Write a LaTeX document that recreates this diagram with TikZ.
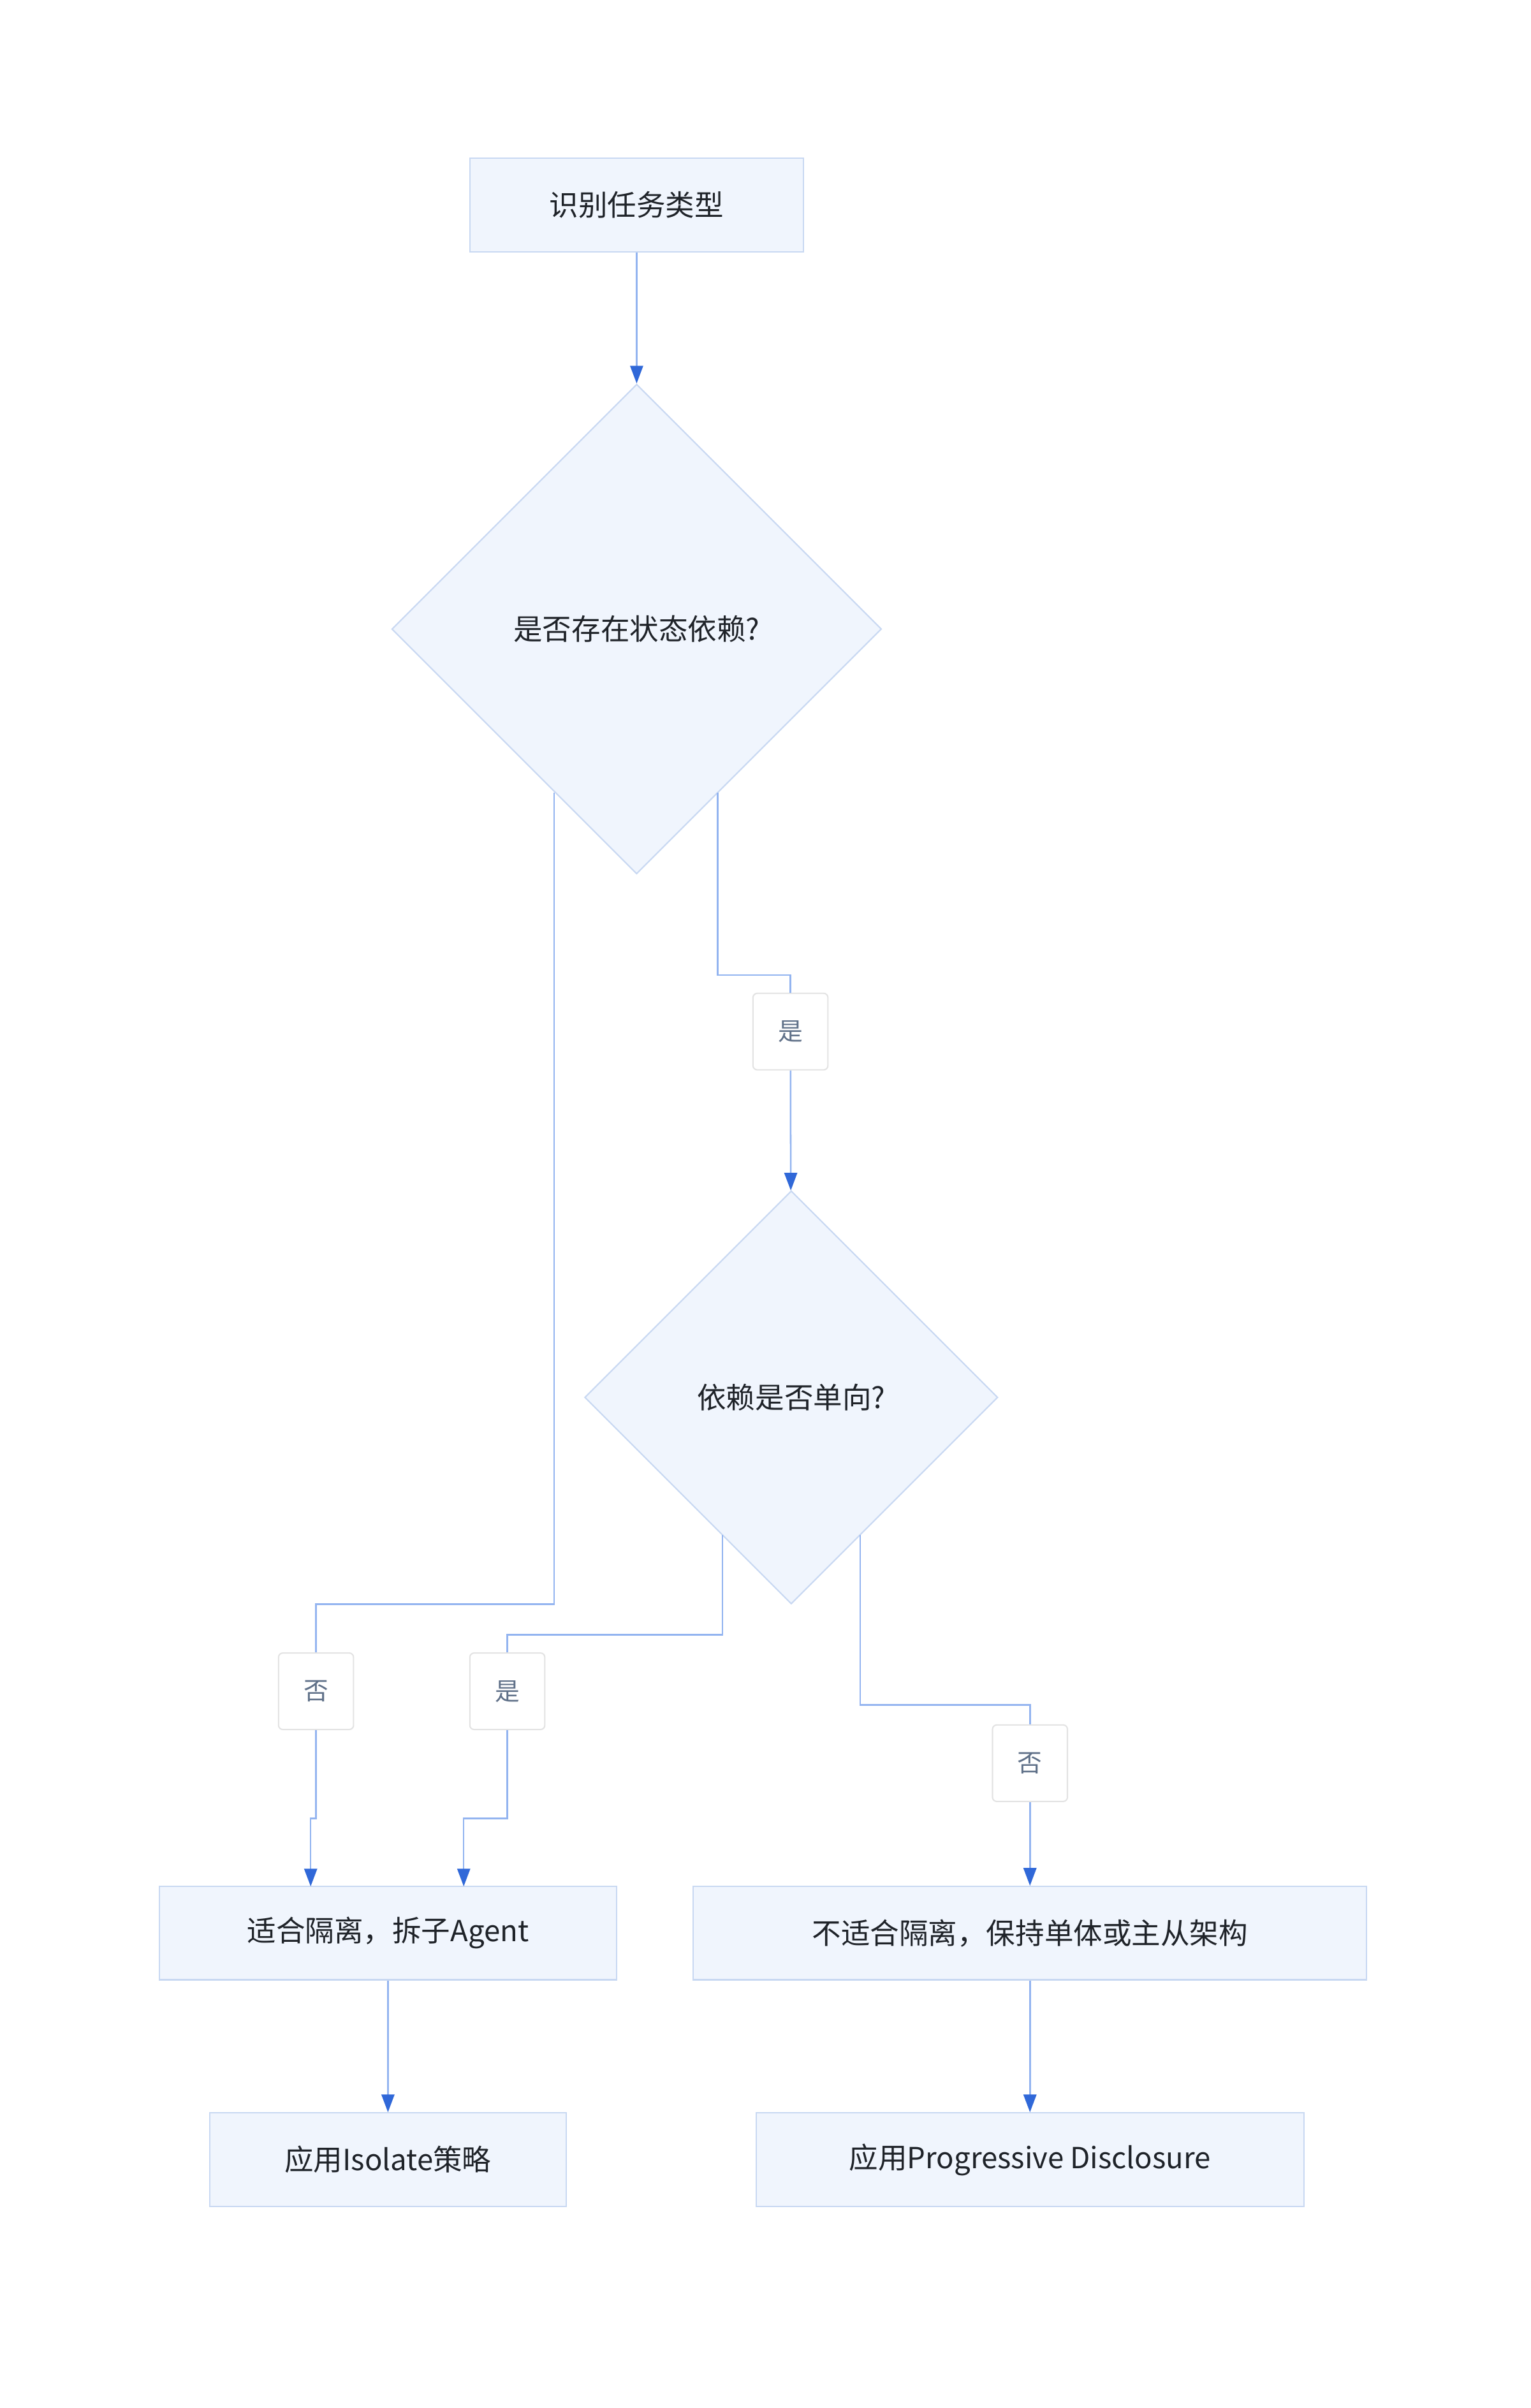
\documentclass[tikz,border=0pt]{standalone}
\usepackage{fontspec}
\setmainfont{Noto Sans CJK SC}
\usetikzlibrary{shapes.geometric,arrows.meta}
\definecolor{nfill}{HTML}{F0F5FD}
\definecolor{nbord}{HTML}{C8D8F2}
\definecolor{linec}{HTML}{93B4F0}
\definecolor{arrc}{HTML}{3068D8}
\definecolor{lbord}{HTML}{E3E3E3}
\definecolor{ltext}{HTML}{5F7088}
\definecolor{ntext}{HTML}{1F2329}
\begin{document}
\begin{tikzpicture}[x=0.1cm,y=-0.1cm,
  box/.style={draw=nbord,fill=nfill,line width=2.5pt,text=ntext,font=\fontsize{54}{60}\selectfont,inner sep=0pt},
  dia/.style={draw=nbord,fill=nfill,line width=2.5pt,text=ntext,font=\fontsize{54}{60}\selectfont,diamond,inner sep=0pt},
  lab/.style={draw=lbord,fill=white,line width=2.5pt,rounded corners=8pt,text=ltext,font=\fontsize{46}{50}\selectfont,minimum width=4.9cm,minimum height=5cm,inner sep=0pt},
  ed/.style={draw=linec,line width=3pt},
  ar/.style={ed,-{Triangle[length=33pt,width=24pt,color=arrc]}}]
\useasboundingbox (0,0) rectangle (1000,1573.3);
\node[box,minimum width=21.8cm,minimum height=6.1cm] (a) at (416,134) {识别任务类型};
\node[dia,minimum width=32cm,minimum height=32cm] (d1) at (416,411) {是否存在状态依赖?};
\node[dia,minimum width=27cm,minimum height=27cm] (d2) at (517,913) {依赖是否单向?};
\node[box,minimum width=29.9cm,minimum height=6.1cm] (b) at (253.5,1263) {适合隔离，拆子Agent};
\node[box,minimum width=44cm,minimum height=6.1cm] (c) at (673,1263) {不适合隔离，保持单体或主从架构};
\node[box,minimum width=23.3cm,minimum height=6.1cm] (e) at (253.5,1411) {应用Isolate策略};
\node[box,minimum width=35.8cm,minimum height=6.1cm] (f) at (673,1411) {应用Progressive Disclosure};
\node[lab] (l1) at (516.5,674) {是};
\node[lab] (l2) at (206.5,1105) {否};
\node[lab] (l3) at (331.5,1105) {是};
\node[lab] (l4) at (673,1152) {否};
\coordinate (s1) at (469,518);
\coordinate (s2) at (362,518);
\coordinate (s3) at (472,1003);
\coordinate (s4) at (562,1003);
\draw[ar] (a) -- (d1);
\draw[ed] (s1) |- (516.5,637) -- (l1);
\draw[ar] (l1) -- (d2);
\draw[ed] (s2) |- (206.5,1048) -- (l2);
\draw[ar] (l2) -- (206.5,1188) -| (203,1232.5);
\draw[ed] (s3) |- (331.5,1068) -- (l3);
\draw[ar] (l3) -- (331.5,1188) -| (303,1232.5);
\draw[ed] (s4) |- (673,1114) -- (l4);
\draw[ar] (l4) -- (c);
\draw[ar] (b) -- (e);
\draw[ar] (c) -- (f);
\end{tikzpicture}
\end{document}
